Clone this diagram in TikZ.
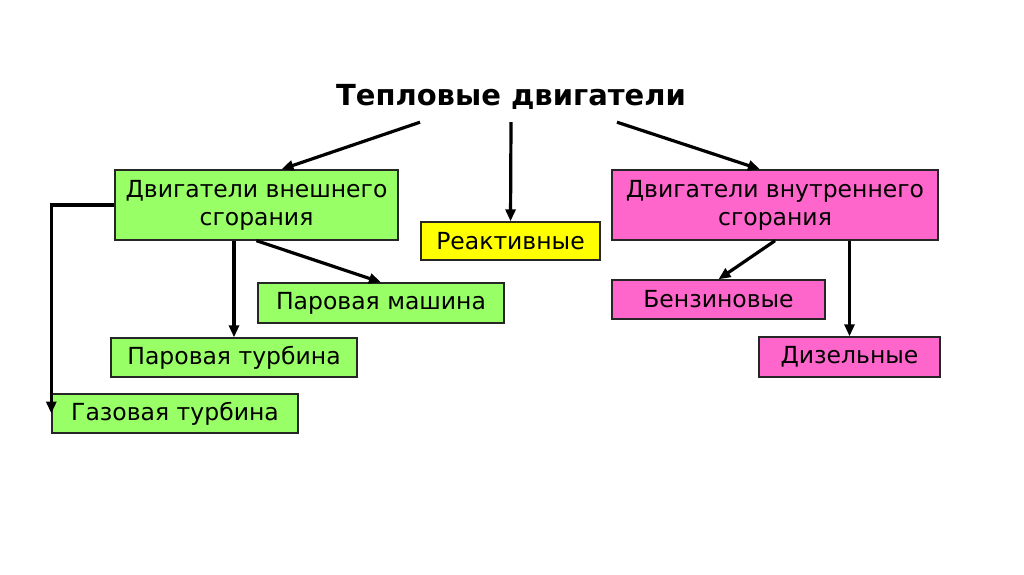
\documentclass[tikz,border=0pt]{standalone}
\usepackage{fontspec}
\setmainfont{DejaVu Sans}
\usetikzlibrary{arrows.meta, positioning}

\definecolor{extgreen}{HTML}{99FF66}
\definecolor{jetyellow}{HTML}{FFFF00}
\definecolor{intpink}{HTML}{FF66CC}

\begin{document}
\begin{tikzpicture}[x=1pt, y=-1pt,
    block/.style={draw=black!85, line width=1.4pt, inner sep=0pt,
        minimum height=40pt, align=center, font=\fontsize{23.5}{28}\selectfont},
    conn/.style={-{Triangle[length=12pt, width=10pt]}, line width=3.2pt}]

        \useasboundingbox[fill=white] (0,0) rectangle (1024,574);

        \node[font=\bfseries\fontsize{29}{35}\selectfont, minimum height=50pt] (title) at (511,97) {Тепловые двигатели};

        \node[block, fill=extgreen, minimum width=283pt, minimum height=70pt] (ext) at (256.5,205) {Двигатели внешнего\\сгорания};
        \node[block, fill=jetyellow, minimum width=179pt, minimum height=38pt] (jet) at (510.5,241) {Реактивные};
        \node[block, fill=intpink, minimum width=326pt, minimum height=70pt] (int) at (775,205) {Двигатели внутреннего\\сгорания};

        \node[block, fill=extgreen, minimum width=246pt] (machine) at (381,303) {Паровая машина};
        \node[block, fill=extgreen, minimum width=246pt, minimum height=39pt] (steamturb) at (234,357.5) {Паровая турбина};
        \node[block, fill=extgreen, minimum width=246pt, minimum height=39pt] (gasturb) at (175,413.5) {Газовая турбина};

        \node[block, fill=intpink, minimum width=213pt, minimum height=39pt] (petrol) at (718.5,299.5) {Бензиновые};
        \node[block, fill=intpink, minimum width=181pt] (diesel) at (849.5,357) {Дизельные};

        % from the title
        \draw[conn] ([xshift=-91pt]title.south) -- ([xshift=25pt]ext.north);
        \draw[conn] (title.south) -- (jet.north);
        \draw[conn] ([xshift=106pt]title.south) -- ([xshift=-15pt]int.north);

        % external combustion
        \draw[conn] (ext.south) -- (machine.north);
        \draw[conn] (steamturb.north |- ext.south) -- (steamturb.north);
        \draw[conn] (ext.west) -| (gasturb.west);

        % internal combustion
        \draw[conn] (int.south) -- (petrol.north);
        \draw[conn] (diesel.north |- int.south) -- (diesel.north);

\end{tikzpicture}
\end{document}
